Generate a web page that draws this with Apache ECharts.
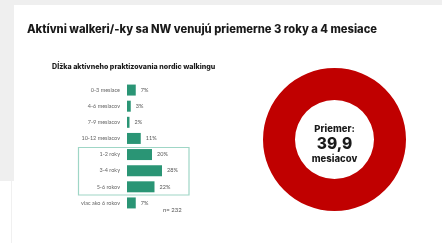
<!DOCTYPE html>
<html><head><meta charset="utf-8">
<script src="https://cdn.jsdelivr.net/npm/echarts@6/dist/echarts.min.js"></script>
<style>html,body{margin:0;padding:0;background:#fff}#c{width:442px;height:243px}</style>
</head><body><div id="c"></div>
<script>
const titleText = 'Aktívni walkeri/-ky sa NW venujú priemerne 3 roky a 4 mesiace';
const subTitleText = 'Dĺžka aktívneho praktizovania nordic walkingu';
const categories = ['0-3 mesiace','4-6 mesiacov','7-9 mesiacov','10-12 mesiacov','1-2 roky','3-4 roky','5-6 rokov','viac ako 6 rokov'];
const values = [7, 3, 2, 11, 20, 28, 22, 7];
const nText = 'n= 232';
const averageValue = [39.9];
const centerLines = ['Priemer:', '39,9', 'mesiacov'];

const chart = echarts.init(document.getElementById('c'), null, {renderer:'canvas'});
const FONT = 'Lato';
const HFONT = 'Inter';
chart.setOption({
  animation:false,
  backgroundColor:'#ffffff',
  graphic:[
    {type:'rect', shape:{x:0,y:0,width:442,height:5}, style:{fill:'#efefef'}, z:-10},
    {type:'rect', shape:{x:0,y:0,width:14,height:181}, style:{fill:'#efefef'}, z:-10},
    {type:'line', shape:{x1:11.5,y1:181,x2:11.5,y2:243}, style:{stroke:'#f0f0f0',lineWidth:1}, z:-10},
    {type:'text', left:27, top:24, style:{text:titleText, font:'800 11.2px '+HFONT, fill:'#1a1a1a'}},
    {type:'text', left:52, top:63, style:{text:subTitleText, font:'800 7.1px '+HFONT, fill:'#1a1a1a'}},
    {type:'rect', shape:{x:78.5,y:147.5,width:110.5,height:47.5}, style:{fill:'none', stroke:'#9fd6c6', lineWidth:1.2}},
    {type:'text', left:163, top:207, style:{text:nText, font:'6px '+FONT, fill:'#555'}},
    {type:'text', style:{text:centerLines[0], x:334.5, y:129, font:'800 9.5px '+HFONT, fill:'#1a1a1a', align:'center', verticalAlign:'middle'}},
    {type:'text', style:{text:centerLines[1], x:334.5, y:144, font:'800 15.5px '+HFONT, fill:'#1a1a1a', align:'center', verticalAlign:'middle'}},
    {type:'text', style:{text:centerLines[2], x:334.5, y:159, font:'800 9.5px '+HFONT, fill:'#1a1a1a', align:'center', verticalAlign:'middle'}}
  ],
  grid:{left:127, top:82, width:125, height:129, containLabel:false},
  xAxis:{type:'value', min:0, max:100, show:false},
  yAxis:{type:'category', inverse:true, data:categories,
    axisLine:{show:false}, axisTick:{show:false}, splitLine:{show:false},
    axisLabel:{fontFamily:FONT, fontSize:5.5, color:'#666', margin:7}},
  series:[
    {type:'bar', data:values, barWidth:11, itemStyle:{color:'#2a9575'},
     label:{show:true, position:'right', distance:5, formatter:'{c}%', fontFamily:FONT, fontSize:5.5, color:'#555'}},
    {type:'pie', center:[334.5,139.5], radius:[39.5,71.5], silent:true,
     data:averageValue.map(v=>({value:v})), label:{show:false}, labelLine:{show:false},
     itemStyle:{color:'#c00000'}}
  ]
});
</script></body></html>
